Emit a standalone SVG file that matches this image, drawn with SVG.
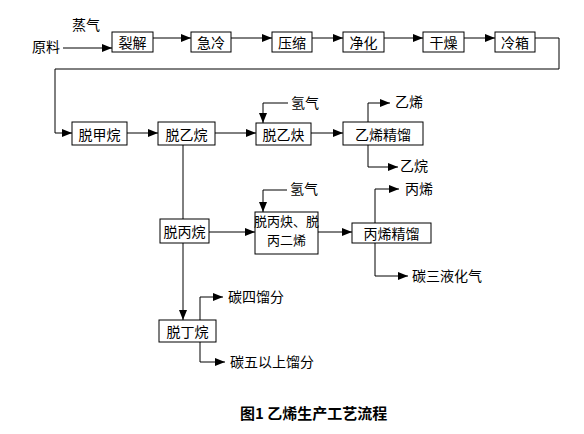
<svg xmlns="http://www.w3.org/2000/svg" width="584" height="434" viewBox="0 0 584 434">
<defs>
<marker id="ah" markerWidth="10" markerHeight="8" refX="10" refY="4" orient="auto" markerUnits="userSpaceOnUse">
<path d="M0,0 L10,4 L0,8 z" fill="#000"/>
</marker>
<style>
.box{fill:#fff;stroke:#000;stroke-width:1}
.t{font-family:"Noto Sans CJK SC","Liberation Sans",sans-serif;font-size:14px;fill:#000;dominant-baseline:central}
.c{text-anchor:middle}
.ln{fill:none;stroke:#000;stroke-width:1}
.ar{marker-end:url(#ah)}
.title{font-family:"Noto Sans CJK SC","Liberation Sans",sans-serif;font-size:15px;font-weight:bold;fill:#000;dominant-baseline:central}
</style>
</defs>
<rect width="584" height="434" fill="#fff"/>
<g id="connectors">
<path class="ln ar" d="M63,48 H112"/>
<path class="ln ar" d="M153,38 H191"/>
<path class="ln ar" d="M231,38 H272"/>
<path class="ln ar" d="M312,38 H343"/>
<path class="ln ar" d="M384,38 H423"/>
<path class="ln ar" d="M464,38 H495"/>
<path class="ln ar" d="M535,38 H559 V69 H55 V133 H72"/>
<path class="ln ar" d="M127,133 H158"/>
<path class="ln ar" d="M215,133 H256"/>
<path class="ln ar" d="M311,133 H343"/>
<path class="ln ar" d="M288,103 H263 V123"/>
<path class="ln ar" d="M368,122 V103 H390"/>
<path class="ln ar" d="M368,145 V167 H398"/>
<path class="ln" d="M183,145 V219"/>
<path class="ln ar" d="M183,243 V320"/>
<path class="ln ar" d="M209,232 H255"/>
<path class="ln ar" d="M287,190 H263 V212"/>
<path class="ln ar" d="M318,232 H352"/>
<path class="ln ar" d="M375,223 V189 H399"/>
<path class="ln ar" d="M375,243 V276 H408"/>
<path class="ln ar" d="M200,320 V297 H223"/>
<path class="ln ar" d="M200,342 V362 H225"/>
</g>
<g id="label-steam"><text class="t c" x="86" y="24">蒸气</text></g>
<g id="label-feed"><text class="t c" x="46" y="46">原料</text></g>
<g id="n-liejie"><rect class="box" x="112" y="32" width="41" height="20"/><text class="t c" x="132.5" y="42">裂解</text></g>
<g id="n-jileng"><rect class="box" x="191" y="32" width="40" height="20"/><text class="t c" x="211" y="42">急冷</text></g>
<g id="n-yasuo"><rect class="box" x="272" y="32" width="40" height="20"/><text class="t c" x="292" y="42">压缩</text></g>
<g id="n-jinghua"><rect class="box" x="343" y="32" width="41" height="20"/><text class="t c" x="363.5" y="42">净化</text></g>
<g id="n-ganzao"><rect class="box" x="423" y="32" width="41" height="20"/><text class="t c" x="443.5" y="42">干燥</text></g>
<g id="n-lengxiang"><rect class="box" x="495" y="32" width="40" height="20"/><text class="t c" x="515" y="42">冷箱</text></g>
<g id="n-tuojiawan"><rect class="box" x="72" y="122" width="55" height="23"/><text class="t c" x="99.5" y="133.5">脱甲烷</text></g>
<g id="n-tuoyiwan"><rect class="box" x="158" y="122" width="57" height="23"/><text class="t c" x="186.5" y="133.5">脱乙烷</text></g>
<g id="n-tuoyique"><rect class="box" x="256" y="123" width="55" height="22"/><text class="t c" x="283.5" y="134">脱乙炔</text></g>
<g id="label-h2a"><text class="t" x="291" y="102">氢气</text></g>
<g id="n-yixijingliu"><rect class="box" x="343" y="122" width="80" height="23"/><text class="t c" x="383" y="133.5">乙烯精馏</text></g>
<g id="label-ethylene"><text class="t" x="395" y="101">乙烯</text></g>
<g id="label-ethane"><text class="t" x="400" y="165">乙烷</text></g>
<g id="n-tuobingwan"><rect class="box" x="160" y="219" width="49" height="24"/><text class="t c" x="184.5" y="231">脱丙烷</text></g>
<g id="n-tuobingque"><rect class="box" x="255" y="212" width="63" height="42"/><text class="t c" x="286.5" y="220" style="font-size:13px">脱丙炔、脱</text><text class="t c" x="286.5" y="239" style="font-size:13px">丙二烯</text></g>
<g id="label-h2b"><text class="t" x="290" y="188">氢气</text></g>
<g id="n-bingxijingliu"><rect class="box" x="352" y="223" width="79" height="20"/><text class="t c" x="391.5" y="233">丙烯精馏</text></g>
<g id="label-propylene"><text class="t" x="405" y="188">丙烯</text></g>
<g id="label-c3lpg"><text class="t" x="412" y="275">碳三液化气</text></g>
<g id="n-tuodingwan"><rect class="box" x="159" y="320" width="57" height="22"/><text class="t c" x="187.5" y="331">脱丁烷</text></g>
<g id="label-c4"><text class="t" x="228" y="296">碳四馏分</text></g>
<g id="label-c5"><text class="t" x="230" y="361">碳五以上馏分</text></g>
<g id="title"><text class="title" x="240" y="412">图1 乙烯生产工艺流程</text></g>
</svg>
